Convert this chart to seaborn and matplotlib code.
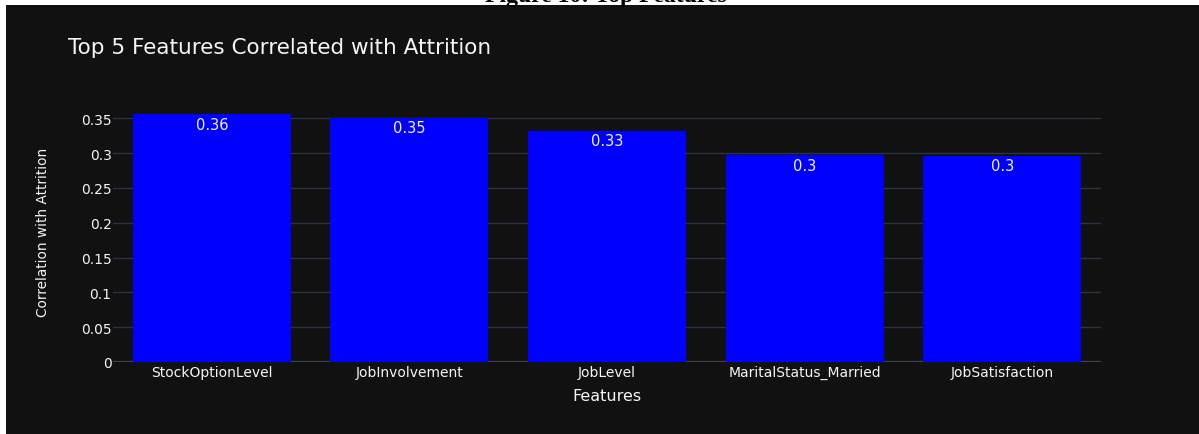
import matplotlib
matplotlib.use("Agg")
import matplotlib.pyplot as plt
from matplotlib.patches import Rectangle
import seaborn as sns
import pandas as pd

# Correlation of each feature with attrition
features = ["StockOptionLevel", "JobInvolvement", "JobLevel",
            "MaritalStatus_Married", "JobSatisfaction"]
correlations = [0.356, 0.351, 0.332, 0.297, 0.296]
y_ticks = [0, 0.05, 0.1, 0.15, 0.2, 0.25, 0.3, 0.35]
y_tick_labels = ["0", "0.05", "0.1", "0.15", "0.2", "0.25", "0.3", "0.35"]

W, H = 1199, 435
BG = "#111111"
GRID = "#283442"
TXT = "#f2f5fa"

sns.set_theme(style="dark")
plt.rcParams["font.family"] = ["DejaVu Sans"]

fig = plt.figure(figsize=(W / 100, H / 100), dpi=100, facecolor="white")
# dark page panel behind the chart
fig.patches.append(Rectangle((6 / W, 0), 1 - 6 / W, 1 - 6 / H,
                             transform=fig.transFigure, facecolor=BG,
                             edgecolor="none", zorder=-5))

ax = fig.add_axes([113 / W, (H - 363) / H, (1101 - 113) / W, (363 - 102) / H])
ax.set_zorder(2)
ax.set_facecolor(BG)

df = pd.DataFrame({"Features": features, "Correlation": correlations})
sns.barplot(data=df, x="Features", y="Correlation", color="#0000ff",
            saturation=1, width=0.8, linewidth=0, ax=ax, zorder=3)

ax.set_xlim(-0.5, len(features) - 0.5)
ax.set_ylim(0, max(correlations) * 1.053)
ax.set_yticks(y_ticks, y_tick_labels)
ax.yaxis.grid(True, color=GRID, lw=1)
ax.xaxis.grid(False)
ax.set_axisbelow(True)
ax.axhline(0, color="#3c4553", lw=1.6, zorder=2)
for s in ax.spines.values():
    s.set_visible(False)
ax.tick_params(axis="both", length=0, colors=TXT, labelsize=10)
ax.tick_params(axis="y", pad=1)
ax.tick_params(axis="x", pad=2)
ax.set_xlabel("")
ax.set_ylabel("")

# value labels inside the top of each bar
for i, v in enumerate(correlations):
    ax.annotate(f"{round(v, 2):g}", xy=(i, v), xytext=(0, -10),
                textcoords="offset pixels", ha="center", va="center",
                color=TXT, fontsize=10.5, zorder=4)

fig.text(68 / W, 1 - 47.7 / H, "Top 5 Features Correlated with Attrition",
         ha="left", va="center", color=TXT, fontsize=15.5)
fig.text(607 / W, 1 - 397 / H, "Features", ha="center", va="center",
         color=TXT, fontsize=11.5)
fig.text(43 / W, 1 - 232 / H, "Correlation with Attrition", rotation=90,
         ha="center", va="center", color=TXT, fontsize=9.8,
         family=["Liberation Sans Narrow", "DejaVu Sans"])
fig.text(606 / W, 1 - 2 / H, "Figure 10: Top Features", ha="center",
         va="baseline", color="black", fontsize=17, weight="bold",
         family=["Liberation Serif", "DejaVu Serif"])

fig.savefig("out.png", dpi=100, facecolor=fig.get_facecolor())
